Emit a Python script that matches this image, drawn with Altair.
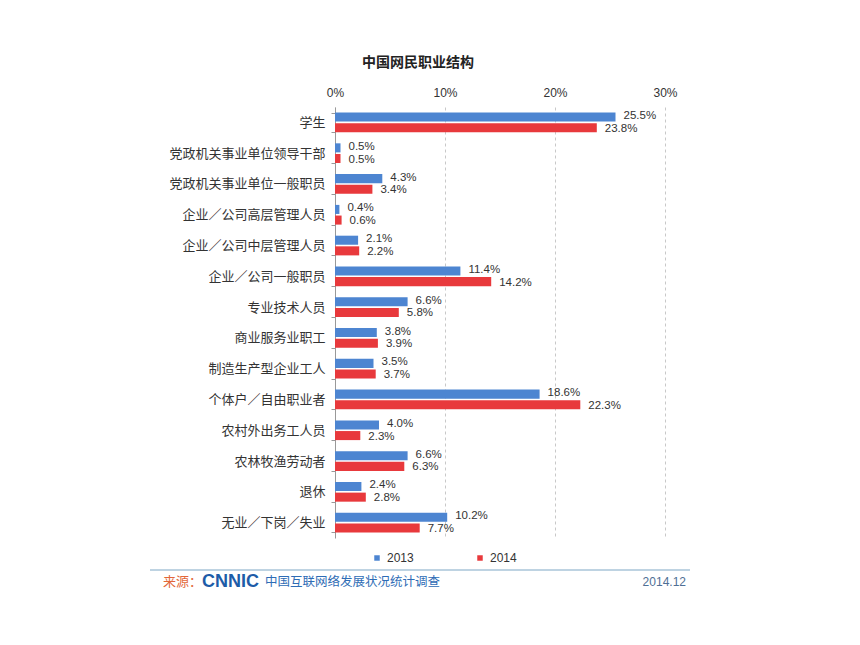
import altair as alt
import pandas as pd

categories = ["学生", "党政机关事业单位领导干部", "党政机关事业单位一般职员", "企业／公司高层管理人员",
              "企业／公司中层管理人员", "企业／公司一般职员", "专业技术人员", "商业服务业职工",
              "制造生产型企业工人", "个体户／自由职业者", "农村外出务工人员", "农林牧渔劳动者",
              "退休", "无业／下岗／失业"]
v2013 = [25.5, 0.5, 4.3, 0.4, 2.1, 11.4, 6.6, 3.8, 3.5, 18.6, 4.0, 6.6, 2.4, 10.2]
v2014 = [23.8, 0.5, 3.4, 0.6, 2.2, 14.2, 5.8, 3.9, 3.7, 22.3, 2.3, 6.3, 2.8, 7.7]
years = ["2013", "2014"]
colors = ["#4d85d1", "#e8393c"]
x_ticks = [0, 10, 20, 30]

rows = []
for c, a, b in zip(categories, v2013, v2014):
    rows.append({"cat": c, "year": years[0], "value": a})
    rows.append({"cat": c, "year": years[1], "value": b})
df = pd.DataFrame(rows)

CJK = "Noto Sans CJK SC"
LAT = "Liberation Sans"

y_enc = alt.Y("cat:N", sort=categories, title=None,
              scale=alt.Scale(paddingInner=0.36, paddingOuter=0.18),
              axis=alt.Axis(labelFont=CJK, labelFontSize=13, labelColor="#333333",
                            domainColor="#999999", tickColor="#999999", tickSize=4,
                            tickBand="extent", labelPadding=6, grid=False))
yoff = alt.YOffset("year:N", scale=alt.Scale(domain=years, paddingInner=0.15))
x_enc = alt.X("value:Q", title=None,
              scale=alt.Scale(domain=[0, 30], nice=False),
              axis=alt.Axis(orient="top", values=x_ticks, labelExpr="datum.value + '%'",
                            domain=False, ticks=False, grid=True, gridDash=[3, 3],
                            gridColor="#c8c8c8", labelFont=LAT, labelFontSize=12,
                            labelColor="#333333", labelPadding=8, labelFlush=False))

bars = alt.Chart(df).mark_bar().encode(
    y=y_enc, yOffset=yoff, x=x_enc,
    color=alt.Color("year:N", scale=alt.Scale(domain=years, range=colors), title=None,
                    legend=alt.Legend(orient="none", legendX=36, legendY=445,
                                      direction="horizontal", symbolType="square",
                                      symbolSize=30, symbolStrokeWidth=0,
                                      labelFont=LAT, labelFontSize=12, labelColor="#333333",
                                      columnPadding=60, labelOffset=4))
)


def label_layer(year, dy):
    return alt.Chart(df).transform_filter(
        alt.datum.year == year
    ).transform_calculate(
        label="format(datum.value, '.1f') + '%'"
    ).mark_text(align="left", baseline="middle", dx=8, dy=dy, font=LAT, fontSize=11.5,
                color="#333333").encode(
        y=alt.Y("cat:N", sort=categories), yOffset=yoff, x="value:Q", text="label:N"
    )


labels13 = label_layer(years[0], -1)
labels14 = label_layer(years[1], 1)

title = alt.Chart(pd.DataFrame({"t": ["中国网民职业结构"]})).mark_text(
    font=CJK, fontSize=14, fontWeight="bold", color="#222222", align="center", baseline="middle"
).encode(x=alt.value(83), y=alt.value(-44), text="t:N")

footer_line = alt.Chart(pd.DataFrame({"a": [0]})).mark_rule(color="#a9c4d8", strokeWidth=1.5).encode(
    x=alt.value(-185), x2=alt.value(355), y=alt.value(463)
)

src = alt.Chart(pd.DataFrame({"t": ["来源："]})).mark_text(
    font=CJK, fontSize=13, color="#e2673a", align="left", baseline="middle"
).encode(x=alt.value(-172), y=alt.value(475), text="t:N")

logo = alt.Chart(pd.DataFrame({"t": ["CNNIC"]})).mark_text(
    font=LAT, fontSize=18, fontWeight="bold", color="#1d5ca8", align="left", baseline="middle"
).encode(x=alt.value(-133), y=alt.value(475), text="t:N")

survey = alt.Chart(pd.DataFrame({"t": ["中国互联网络发展状况统计调查"]})).mark_text(
    font=CJK, fontSize=12.5, color="#2e6cb5", align="left", baseline="middle"
).encode(x=alt.value(-70), y=alt.value(475), text="t:N")

date = alt.Chart(pd.DataFrame({"t": ["2014.12"]})).mark_text(
    font=LAT, fontSize=12, color="#4f6f95", align="right", baseline="middle"
).encode(x=alt.value(351), y=alt.value(475), text="t:N")

chart = alt.layer(bars, labels13, labels14, title, footer_line, src, logo, survey, date).properties(
    width=330, height=431,
    autosize=alt.AutoSizeParams(type="none"),
    padding={"left": 335, "top": 107, "right": 195, "bottom": 107},
    background="white",
).configure_view(stroke=None)

chart.save("out.html", embed_options={"renderer": "svg", "actions": False})
